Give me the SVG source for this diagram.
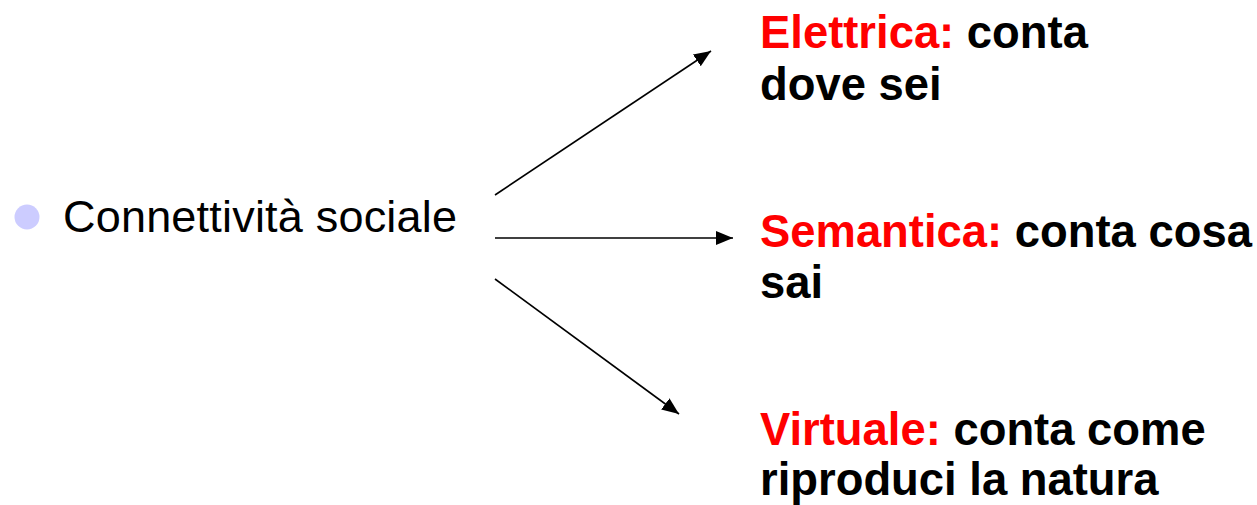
<svg xmlns="http://www.w3.org/2000/svg" width="1257" height="505" viewBox="0 0 1257 505">
<style>
.t{font-family:"Liberation Sans",Arial,sans-serif;font-size:45px;fill:#000}
.b{font-weight:bold;font-size:45.4px}
.r{fill:#ff0000}
.c{stroke:#000;stroke-width:1.6;fill:none}
</style>
<defs>
<marker id="ah" markerUnits="userSpaceOnUse" markerWidth="18" markerHeight="14" refX="17" refY="7" orient="auto">
<path d="M0,0 L17,7 L0,14 Z" fill="#000"/>
</marker>
</defs>
<rect width="1257" height="505" fill="#fff"/>
<g id="source">
<circle cx="27" cy="217" r="12.5" fill="#ccccff"/>
<text class="t" x="63" y="232" textLength="394">Connettività sociale</text>
</g>
<g id="connectors">
<line class="c" x1="495" y1="195" x2="711" y2="51" marker-end="url(#ah)"/>
<line class="c" x1="495" y1="238" x2="733" y2="238" marker-end="url(#ah)"/>
<line class="c" x1="495" y1="279" x2="679" y2="414" marker-end="url(#ah)"/>
</g>
<g id="elettrica">
<text class="t b" x="760" y="48"><tspan class="r">Elettrica:</tspan> conta</text>
<text class="t b" x="760" y="100">dove sei</text>
</g>
<g id="semantica">
<text class="t b" x="760" y="247"><tspan class="r">Semantica:</tspan> conta cosa</text>
<text class="t b" x="760" y="298">sai</text>
</g>
<g id="virtuale">
<text class="t b" x="760" y="445"><tspan class="r">Virtuale:</tspan> conta come</text>
<text class="t b" x="760" y="495">riproduci la natura</text>
</g>
</svg>
